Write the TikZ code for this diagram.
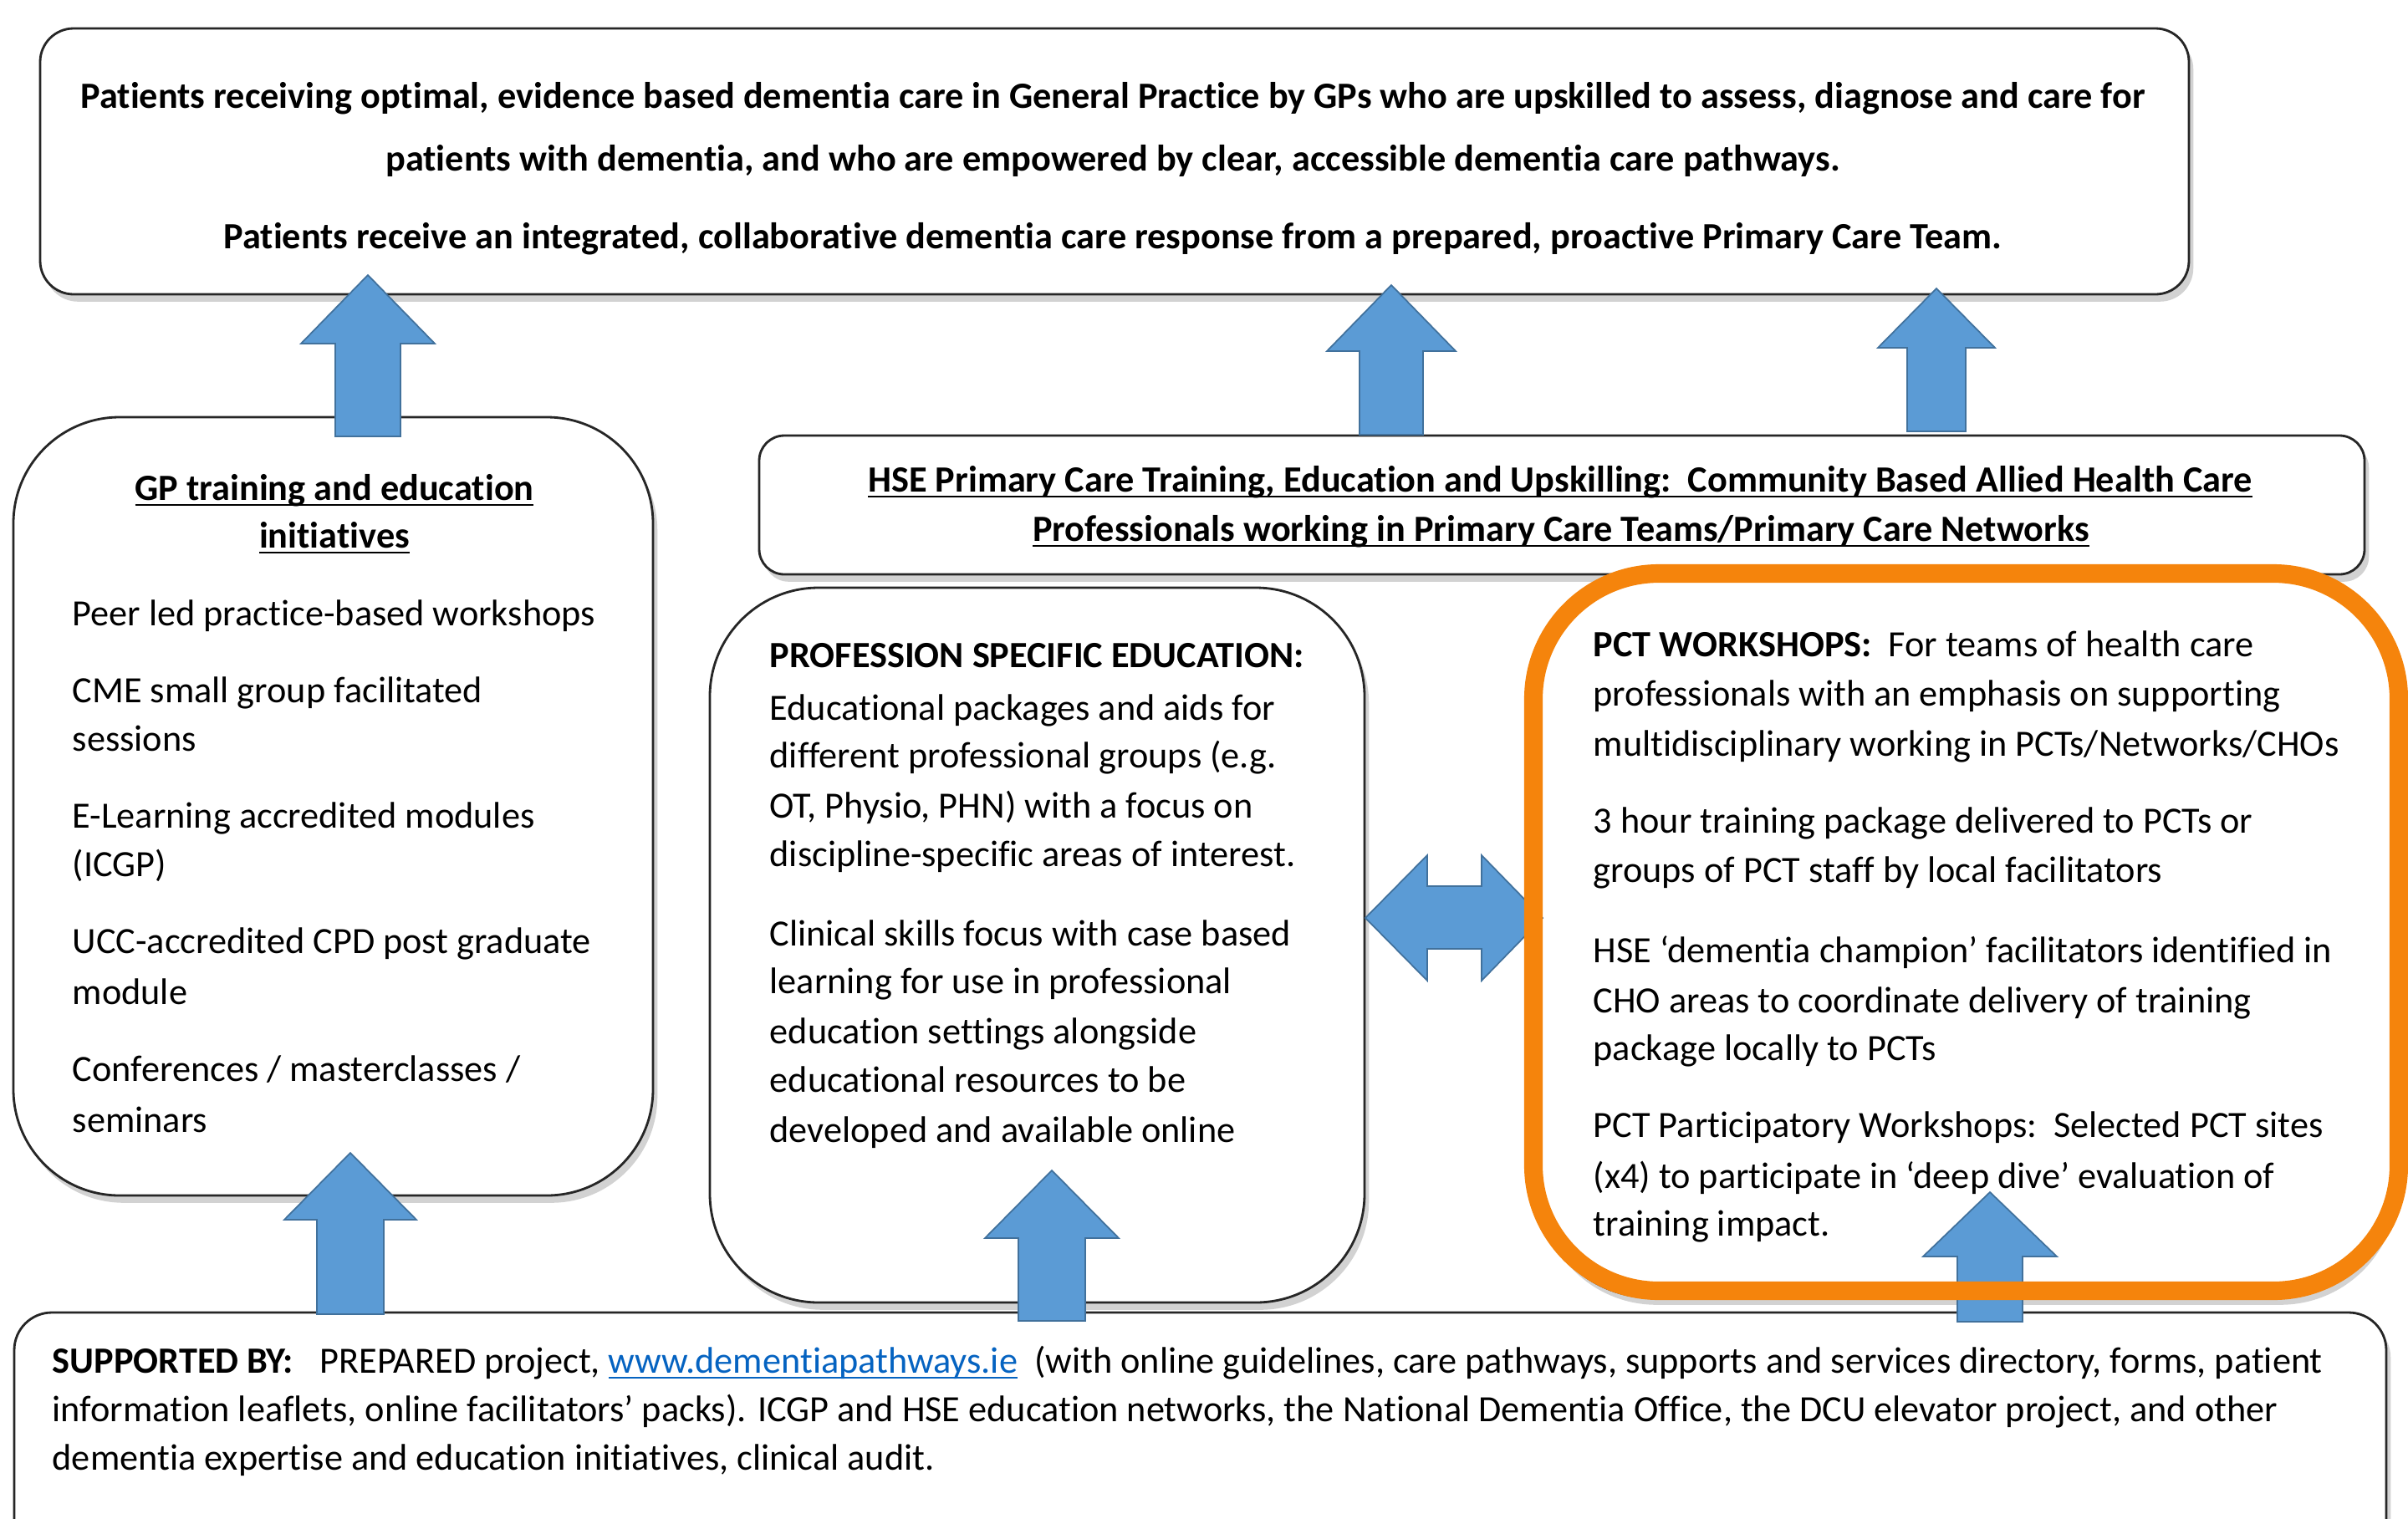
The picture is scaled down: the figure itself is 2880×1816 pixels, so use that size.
\documentclass[tikz,border=0pt]{standalone}
\usepackage{fontspec}
\setmainfont{Carlito}[Ligatures={NoCommon}]
\usetikzlibrary{shadows}
\definecolor{arrowblue}{HTML}{5B9BD5}
\definecolor{arrowedge}{HTML}{41719C}
\definecolor{hlorange}{HTML}{F5840C}
\definecolor{linkblue}{HTML}{0563C1}
\newcommand\myul[1]{\setbox0\hbox{#1}\rlap{\rule[-1.9pt]{\wd0}{0.6pt}}\box0}
\newcommand\uparr[6]{\draw[blockarrow] (#1,#2) -- (#1+#4,#3) -- (#1+#5,#3) -- (#1+#5,#6) -- (#1-#5,#6) -- (#1-#5,#3) -- (#1-#4,#3) -- cycle;}
\newcommand\Ln[5]{\node[#1] (#2) at (#3,#4) {#5};}
\tikzset{
  box/.style={draw=black!85, line width=0.8pt, fill=white, inner sep=0pt, outer sep=0pt,
    drop shadow={shadow xshift=1.5pt, shadow yshift=-2.5pt, opacity=0.35}},
  blockarrow/.style={fill=arrowblue, draw=arrowedge, line width=0.5pt, line join=miter},
  txt/.style={anchor=base west, inner sep=0pt, font=\fontsize{12.6pt}{15pt}\selectfont},
  ctxt/.style={anchor=base, inner sep=0pt, font=\fontsize{12.6pt}{15pt}\selectfont\bfseries},
  gtxt/.style={anchor=base, inner sep=0pt, font=\fontsize{12.6pt}{15pt}\selectfont\bfseries},
}
\begin{document}
\begin{tikzpicture}[x=0.1mm,y=-0.1mm]
\useasboundingbox (0,0) rectangle (2880,1816);
\fill[white] (0,0) rectangle (2880,1816);
\clip (0,0) rectangle (2880,1816);

% boxes
\node[box, rounded corners=4mm, minimum width=257mm, minimum height=31.8mm] (top) at (1333,193) {};
\node[box, rounded corners=12.7mm, minimum width=76.5mm, minimum height=93.1mm] (gp) at (398.5,964.5) {};
\node[box, rounded corners=3mm, minimum width=192mm, minimum height=16.6mm] (hse) at (1868,604) {};
\node[box, rounded corners=13mm, minimum width=78.3mm, minimum height=85.5mm] (prof) at (1240.5,1130.5) {};
\node[box, rounded corners=14mm, minimum width=102.6mm, minimum height=86.2mm] (pct) at (2349,1121) {};
\node[box, rounded corners=4.5mm, minimum width=283.7mm, minimum height=38mm] (sup) at (1435.5,1760) {};

% block arrows
\uparr{440}{329}{411}{80}{39}{522}
\uparr{1664}{341}{420}{77}{38}{520}
\uparr{2316}{345}{416}{70}{35}{516}
\uparr{419}{1379}{1459}{79}{40}{1572}
\uparr{1258}{1400}{1481}{80}{40}{1580}
\uparr{2380}{1426}{1503}{80}{39}{1581}
\draw[blockarrow] (1633,1098) -- (1707,1023) -- (1707,1060) -- (1772,1060) -- (1772,1023) -- (1845,1098) -- (1772,1173) -- (1772,1135) -- (1707,1135) -- (1707,1173) -- cycle;

% orange highlight
\node[draw=hlorange, line width=6.3pt, rounded corners=15mm, inner sep=0pt, minimum width=103.5mm, minimum height=85.8mm] (hl) at (2351.5,1115) {};

% top text
\Ln{ctxt}{t1}{1331}{129}{Patients receiving optimal, evidence based dementia care in General Practice by GPs who are upskilled to assess, diagnose and care for}
\Ln{ctxt}{t2}{1331}{204}{patients with dementia, and who are empowered by clear, accessible dementia care pathways.}
\Ln{ctxt}{t3}{1331}{297}{Patients receive an integrated, collaborative dementia care response from a prepared, proactive Primary Care Team.}

% HSE text
\Ln{ctxt}{h1}{1866}{588}{\myul{HSE Primary Care Training, Education and Upskilling:\ \ Community Based Allied Health Care}}
\Ln{ctxt}{h2}{1867}{647}{\myul{Professionals working in Primary Care Teams/Primary Care Networks}}

% GP text
\Ln{gtxt}{g0}{400}{598}{\myul{GP training and education}}
\Ln{gtxt}{g00}{400}{655}{\myul{initiatives}}
\Ln{txt}{g1}{86}{748}{Peer led practice-based workshops}
\Ln{txt}{g2}{86}{840}{CME small group facilitated}
\Ln{txt}{g3}{86}{898}{sessions}
\Ln{txt}{g4}{86}{990}{E-Learning accredited modules}
\Ln{txt}{g5}{86}{1048}{(ICGP)}
\Ln{txt}{g6}{86}{1140}{UCC-accredited CPD post graduate}
\Ln{txt}{g7}{86}{1201}{module}
\Ln{txt}{g8}{86}{1293}{Conferences / masterclasses /}
\Ln{txt}{g9}{86}{1354}{seminars}

% profession text
\Ln{txt}{p0}{920}{798}{\textbf{PROFESSION SPECIFIC EDUCATION:}}
\Ln{txt}{p1}{920}{861}{Educational packages and aids for}
\Ln{txt}{p2}{920}{918}{different professional groups (e.g.}
\Ln{txt}{p3}{920}{978}{OT, Physio, PHN) with a focus on}
\Ln{txt}{p4}{920}{1036}{discipline-specific areas of interest.}
\Ln{txt}{p5}{920}{1131}{Clinical skills focus with case based}
\Ln{txt}{p6}{920}{1188}{learning for use in professional}
\Ln{txt}{p7}{920}{1248}{education settings alongside}
\Ln{txt}{p8}{920}{1306}{educational resources to be}
\Ln{txt}{p9}{920}{1366}{developed and available online}

% PCT text
\Ln{txt}{c1}{1905}{785}{\textbf{PCT WORKSHOPS:}\ \ For teams of health care}
\Ln{txt}{c2}{1905}{844}{professionals with an emphasis on supporting}
\Ln{txt}{c3}{1905}{904}{multidisciplinary working in PCTs/Networks/CHOs}
\Ln{txt}{c4}{1905}{996}{3 hour training package delivered to PCTs or}
\Ln{txt}{c5}{1905}{1055}{groups of PCT staff by local facilitators}
\Ln{txt}{c6}{1905}{1151}{HSE ‘dementia champion’ facilitators identified in}
\Ln{txt}{c7}{1905}{1211}{CHO areas to coordinate delivery of training}
\Ln{txt}{c8}{1905}{1268}{package locally to PCTs}
\Ln{txt}{c9}{1905}{1360}{PCT Participatory Workshops:\ \ Selected PCT sites}
\Ln{txt}{c10}{1905}{1421}{(x4) to participate in ‘deep dive’ evaluation of}
\Ln{txt}{c11}{1905}{1478}{training impact.}

% supported by text
\Ln{txt}{s1}{62}{1642}{\textbf{SUPPORTED BY:}\hspace{9pt}PREPARED project, \textcolor{linkblue}{\myul{www.dementiapathways.ie}}\ \ (with online guidelines, care pathways, supports and services directory, forms, patient}
\Ln{txt}{s2}{62}{1700}{information leaflets, online facilitators’ packs). ICGP and HSE education networks, the National Dementia Office, the DCU elevator project, and other}
\Ln{txt}{s3}{62}{1758}{dementia expertise and education initiatives, clinical audit.}
\end{tikzpicture}
\end{document}
